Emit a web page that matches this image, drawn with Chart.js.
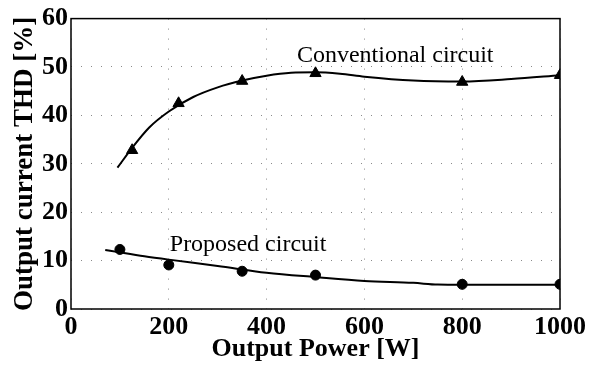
<!DOCTYPE html>
<html>
<head>
<meta charset="utf-8">
<script src="https://cdn.jsdelivr.net/npm/chart.js@4/dist/chart.umd.min.js"></script>
<style>
  html, body { margin: 0; padding: 0; background: #fff; }
  #wrap { width: 594px; height: 365px; }
</style>
</head>
<body>
<div id="wrap"><canvas id="thd-chart"></canvas></div>
<script>
// measured points (output power in W, THD in %)
const convPower = [125, 220, 350, 500, 800, 1000];
const convThd = [32.8, 42.5, 47.1, 48.7, 46.9, 48.3];
const propPower = [100, 200, 350, 500, 800, 1000];
const propThd = [12.3, 9.1, 7.8, 7.0, 5.1, 5.1];

// fitted trend curves
const convFitPower = [95, 125, 160, 200, 250, 300, 350, 400, 450, 500, 550, 600, 700, 800, 900, 1000];
const convFitThd = [29.2, 33.3, 37.5, 40.8, 43.8, 45.8, 47.2, 48.2, 48.8, 48.9, 48.6, 48.0, 47.2, 47.0, 47.5, 48.3];
const propFitPower = [70, 100, 150, 200, 300, 400, 500, 600, 700, 750, 800, 900, 1000];
const propFitThd = [12.2, 11.7, 10.9, 10.2, 8.9, 7.5, 6.6, 5.8, 5.4, 5.05, 5.0, 5.0, 5.0];

// curve labels: [text, x, y]
const curveLabels = [
  ['Conventional circuit', 462, 51.1],
  ['Proposed circuit', 202, 12.0]
];

const serif = "'Liberation Serif', 'Times New Roman', serif";

function pairs(xs, ys) {
  return xs.map((x, i) => ({ x: x, y: ys[i] }));
}

// box around the plot + text labels next to the curves
const framePlugin = {
  id: 'frame',
  afterDatasetsDraw(chart) {
    const { ctx, chartArea: a, scales } = chart;
    ctx.save();
    ctx.strokeStyle = '#000';
    ctx.lineWidth = 1.5;
    ctx.strokeRect(a.left, a.top, a.right - a.left, a.bottom - a.top);
    ctx.fillStyle = '#000';
    ctx.font = '24px ' + serif;
    ctx.textAlign = 'left';
    ctx.textBaseline = 'alphabetic';
    curveLabels.forEach(l => {
      ctx.fillText(l[0], scales.x.getPixelForValue(l[1]), scales.y.getPixelForValue(l[2]));
    });
    ctx.restore();
  }
};

const ctx = document.getElementById('thd-chart').getContext('2d');
new Chart(ctx, {
  type: 'scatter',
  data: {
    datasets: [
      {
        data: pairs(convFitPower, convFitThd),
        showLine: true,
        borderColor: '#000',
        borderWidth: 2,
        pointRadius: 0,
        cubicInterpolationMode: 'monotone'
      },
      {
        data: pairs(convPower, convThd),
        pointStyle: 'triangle',
        pointRadius: 6.5,
        backgroundColor: '#000',
        borderColor: '#000'
      },
      {
        data: pairs(propFitPower, propFitThd),
        showLine: true,
        borderColor: '#000',
        borderWidth: 2,
        pointRadius: 0,
        cubicInterpolationMode: 'monotone'
      },
      {
        data: pairs(propPower, propThd),
        pointStyle: 'circle',
        pointRadius: 5,
        backgroundColor: '#000',
        borderColor: '#000'
      }
    ]
  },
  options: {
    responsive: true,
    maintainAspectRatio: false,
    animation: false,
    layout: { padding: { top: 15, right: 34, bottom: 0, left: 0 } },
    plugins: {
      legend: { display: false },
      tooltip: { enabled: false }
    },
    scales: {
      x: {
        type: 'linear',
        min: 0,
        max: 1000,
        afterFit: s => { s.height = 56; },
        ticks: {
          stepSize: 200,
          padding: 3,
          color: '#000',
          callback: v => String(v),
          font: { family: serif, size: 26, weight: 'bold' }
        },
        grid: { color: '#8a8a8a', drawTicks: false, lineWidth: 1 },
        border: { display: false, dash: [1, 9] },
        title: {
          display: true,
          text: 'Output Power [W]',
          color: '#000',
          padding: { top: 0, bottom: 0 },
          font: { family: serif, size: 26, weight: 'bold' }
        }
      },
      y: {
        min: 0,
        max: 60,
        afterFit: s => { s.width = 71; },
        ticks: {
          stepSize: 10,
          padding: 3,
          color: '#000',
          callback: v => String(v),
          font: { family: serif, size: 26, weight: 'bold' }
        },
        grid: { color: '#8a8a8a', drawTicks: false, lineWidth: 1 },
        border: { display: false, dash: [1, 9] },
        title: {
          display: true,
          text: 'Output current THD [%]',
          color: '#000',
          padding: { top: 9, bottom: 0 },
          font: { family: serif, size: 27, weight: 'bold' }
        }
      }
    }
  },
  plugins: [framePlugin]
});
</script>
</body>
</html>
